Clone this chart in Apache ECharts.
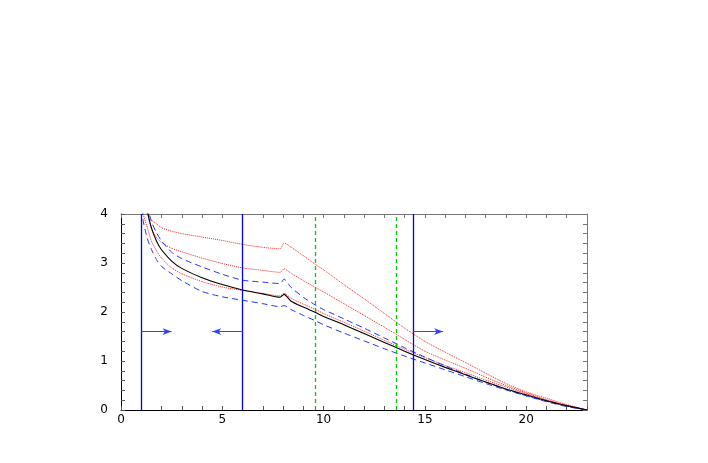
<!DOCTYPE html>
<html>
<head>
<meta charset="utf-8">
<script src="https://cdn.jsdelivr.net/npm/echarts@6/dist/echarts.min.js"></script>
<style>
  html, body { margin: 0; padding: 0; background: #fff; }
  #container { width: 708px; height: 463px; }
</style>
</head>
<body>
<div id="container"></div>
<script>
// shared x grid for all curves
var xs = [1.05, 1.1, 1.3, 1.5, 1.75, 2, 2.5, 3, 4, 5, 6, 7, 7.85, 8.05, 8.4, 9, 9.6, 10,
          11, 12, 13, 14, 15, 16, 17, 18, 19, 20, 21, 22, 23];

var central  = [6.5, 5.6, 4.1, 3.72, 3.45, 3.27, 3.04, 2.89, 2.70, 2.56, 2.45, 2.37, 2.30, 2.36, 2.22, 2.10, 1.99, 1.91,
                1.74, 1.56, 1.38, 1.20, 1.03, 0.87, 0.72, 0.57, 0.43, 0.31, 0.19, 0.09, 0];
var redHigh  = [5.0, 4.6, 4.02, 3.88, 3.80, 3.72, 3.65, 3.60, 3.53, 3.46, 3.38, 3.32, 3.29, 3.41, 3.32, 3.15, 2.97, 2.86,
                2.56, 2.27, 1.97, 1.67, 1.40, 1.18, 0.97, 0.75, 0.54, 0.37, 0.24, 0.11, 0];
var redMid   = [5.2, 4.7, 4.05, 3.70, 3.52, 3.42, 3.30, 3.23, 3.10, 2.99, 2.90, 2.85, 2.81, 2.88, 2.79, 2.64, 2.50, 2.41,
                2.17, 1.93, 1.69, 1.44, 1.20, 1.02, 0.85, 0.67, 0.50, 0.35, 0.21, 0.09, 0];
var redLow   = [4.4, 4.0, 3.72, 3.45, 3.25, 3.10, 2.90, 2.78, 2.62, 2.51, 2.44, 2.38, 2.33, 2.38, 2.28, 2.16, 2.05, 1.97,
                1.79, 1.61, 1.42, 1.24, 1.07, 0.91, 0.76, 0.61, 0.47, 0.33, 0.20, 0.09, 0];
var blueUp   = [5.8, 5.1, 4.2, 3.85, 3.62, 3.45, 3.22, 3.09, 2.92, 2.77, 2.65, 2.61, 2.58, 2.67, 2.50, 2.30, 2.14, 2.05,
                1.86, 1.67, 1.47, 1.27, 1.08, 0.90, 0.73, 0.57, 0.42, 0.29, 0.17, 0.07, 0];
var blueDown = [4.1, 3.85, 3.50, 3.28, 3.07, 2.93, 2.78, 2.64, 2.42, 2.31, 2.24, 2.17, 2.11, 2.13, 2.05, 1.93, 1.82, 1.74,
                1.57, 1.41, 1.25, 1.10, 0.96, 0.82, 0.68, 0.54, 0.41, 0.29, 0.18, 0.08, 0];

var blueCuts  = [1, 6, 14.4];
var greenCuts = [9.6, 13.6];
var arrowY = 1.6;
var arrows = [[1, 2.5], [6, 4.5], [14.4, 15.9]];

function pairs(ys) {
  return xs.map(function (x, i) { return [x, ys[i]]; });
}

var dom = document.getElementById('container');
var myChart = echarts.init(dom);

var labelFont = { color: '#000', fontFamily: 'DejaVu Sans', fontSize: 12 };

function curve(name, ys, color, type, width) {
  return {
    name: name,
    type: 'line',
    data: pairs(ys),
    showSymbol: false,
    smooth: 0.25,
    clip: true,
    lineStyle: { color: color, type: type, width: width },
    z: 3
  };
}

var cutLines = [];
blueCuts.forEach(function (v) {
  cutLines.push({ xAxis: v, lineStyle: { color: '#0000ff', type: 'solid', width: 1.3 } });
});
greenCuts.forEach(function (v) {
  cutLines.push({ xAxis: v, lineStyle: { color: '#00cc00', type: [4, 3], width: 1.3 } });
});
var arrowLines = arrows.map(function (a) {
  return [{ coord: [a[0], arrowY] }, { coord: [a[1], arrowY] }];
});

function sideAxis(pos, isX) {
  var ax = {
    type: 'value', position: pos,
    axisLine: { show: true, onZero: false, lineStyle: { color: '#777' } },
    axisTick: { show: true, inside: true, length: 4, lineStyle: { color: '#777' } },
    splitLine: { show: false },
    axisLabel: { show: false }
  };
  if (isX) { ax.min = 0; ax.max = 23; ax.interval = 1; }
  else { ax.min = 0; ax.max = 4; ax.interval = 0.2; }
  return ax;
}

var option = {
  animation: false,
  grid: { left: 121, right: 121, top: 214, bottom: 53 },
  xAxis: [{
    type: 'value', min: 0, max: 23, interval: 1, position: 'bottom',
    axisLine: { onZero: false, lineStyle: { color: '#000' } },
    axisTick: { inside: true, length: 4, lineStyle: { color: '#555' } },
    splitLine: { show: false },
    axisLabel: Object.assign({ margin: 4, formatter: function (v) { return v % 5 === 0 ? String(v) : ''; } }, labelFont)
  }, sideAxis('top', true)],
  yAxis: [{
    type: 'value', min: 0, max: 4, interval: 0.2, position: 'left',
    axisLine: { show: true, onZero: false, lineStyle: { color: '#000' } },
    axisTick: { show: true, inside: true, length: 4, lineStyle: { color: '#555' } },
    splitLine: { show: false },
    axisLabel: Object.assign({ margin: 13, formatter: function (v) {
      return Math.abs(v - Math.round(v)) < 1e-6 ? String(Math.round(v)) : '';
    } }, labelFont)
  }, sideAxis('right', false)],
  series: [
    curve('red high', redHigh, '#ff2020', 'dotted', 1),
    curve('red mid', redMid, '#ff2020', 'dotted', 1),
    curve('red low', redLow, '#ff2020', 'dotted', 1),
    curve('blue up', blueUp, '#2233ff', [6, 4], 1),
    curve('blue down', blueDown, '#2233ff', [6, 4], 1),
    curve('central', central, '#000', 'solid', 1.1),
    {
      name: 'cuts',
      type: 'line',
      data: [],
      markLine: {
        silent: true,
        animation: false,
        symbol: ['none', 'none'],
        label: { show: false },
        data: cutLines
      }
    },
    {
      name: 'arrows',
      type: 'line',
      data: [],
      markLine: {
        silent: true,
        animation: false,
        symbol: ['none', 'arrow'],
        symbolSize: [5, 9],
        label: { show: false },
        lineStyle: { color: '#3344ff', type: 'solid', width: 1 },
        data: arrowLines
      }
    }
  ]
};
myChart.setOption(option, true);
</script>
</body>
</html>
